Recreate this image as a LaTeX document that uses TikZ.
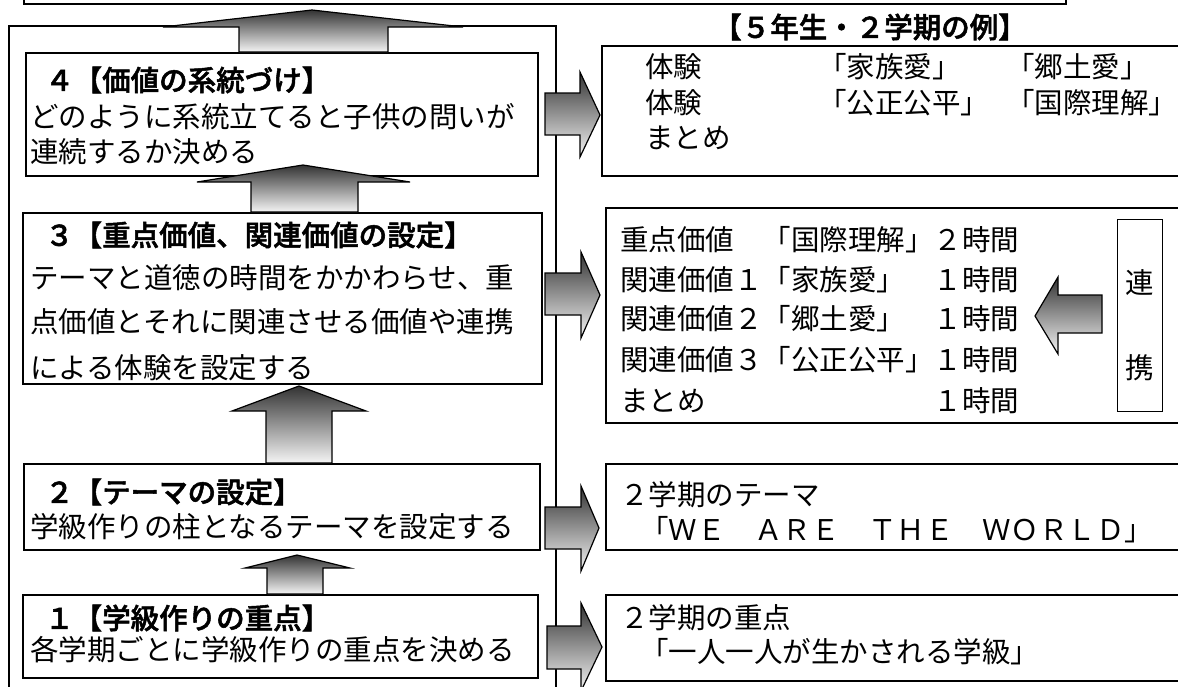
\documentclass[tikz,border=0pt]{standalone}
\usepackage{fontspec}
\newfontfamily\jp{Noto Sans CJK JP}[BoldFont={Noto Sans CJK JP Medium}, BoldFeatures={FakeBold=1.8}]
\begin{document}
\begin{tikzpicture}[x=1pt,y=-1pt,
  box/.style={draw=black, line width=1.5pt, rectangle, inner sep=0pt, anchor=north west},
  txt/.style={anchor=west, inner sep=0pt, font=\jp\fontsize{28.5}{34}\selectfont},
  headtxt/.style={txt, font=\jp\bfseries\fontsize{28.5}{34}\selectfont},
  arr/.style={draw=black, line width=1.2pt, line join=miter, top color=black!80, bottom color=black!4},
]
\useasboundingbox (0,0) rectangle (1178,686);
\fill[white] (0,0) rectangle (1178,686);
\begin{scope}
\clip (0,0) rectangle (1178,686);
% frames
\node[box, minimum width=1042pt, minimum height=60pt] (topbox) at (23,-57) {};
\node[box, minimum width=547pt, minimum height=700pt] (outer) at (8,25) {};
\node[box, minimum width=512pt, minimum height=123pt] (b4) at (25,52) {};
\node[box, minimum width=519pt, minimum height=171pt] (b3) at (22,212) {};
\node[box, minimum width=516pt, minimum height=86pt] (b2) at (23,463) {};
\node[box, minimum width=515pt, minimum height=83pt] (b1) at (22,594) {};
\node[box, minimum width=600pt, minimum height=130pt] (bA) at (601,45) {};
\node[box, minimum width=600pt, minimum height=215pt] (bB) at (605,207) {};
\node[box, minimum width=600pt, minimum height=86pt] (bC) at (605,463) {};
\node[box, minimum width=600pt, minimum height=86pt] (bD) at (605,594) {};
\node[box, line width=1.3pt, minimum width=45pt, minimum height=192pt] (ren) at (1117,219) {};

% label
\node[headtxt, anchor=center] (lbl) at (870,27) {【５年生・２学期の例】};

% left texts
\node[headtxt] (h4) at (45,80) {４【価値の系統づけ】};
\node[txt] (t4a) at (30,117) {どのように系統立てると子供の問いが};
\node[txt] (t4b) at (30,152) {連続するか決める};

\node[headtxt] (h3) at (45,235) {３【重点価値、関連価値の設定】};
\node[txt] (t3a) at (30,278) {テーマと道徳の時間をかかわらせ、重};
\node[txt] (t3b) at (30,322) {点価値とそれに関連させる価値や連携};
\node[txt] (t3c) at (30,368) {による体験を設定する};

\node[headtxt] (h2) at (45,492) {２【テーマの設定】};
\node[txt] (t2a) at (30,527) {学級作りの柱となるテーマを設定する};

\node[headtxt] (h1) at (45,618) {１【学級作りの重点】};
\node[txt] (t1a) at (30,650) {各学期ごとに学級作りの重点を決める};

% right texts
\node[txt] (tA1) at (645,67) {体験};
\node[txt] (tA2) at (818,67) {「家族愛」};
\node[txt] (tA3) at (1006,67) {「郷土愛」};
\node[txt] (tA4) at (645,103) {体験};
\node[txt] (tA5) at (818,103) {「公正公平」};
\node[txt] (tA6) at (1006,103) {「国際理解」};
\node[txt] (tA7) at (645,138) {まとめ};

\node[txt] (tBa) at (620,240) {重点価値　「国際理解」２時間};
\node[txt] (tBb) at (620,280) {関連価値１「家族愛」　１時間};
\node[txt] (tBc) at (620,319) {関連価値２「郷土愛」　１時間};
\node[txt] (tBd) at (620,360) {関連価値３「公正公平」１時間};
\node[txt] (tBe) at (620,401) {まとめ　　　　　　　　１時間};

\node[txt, anchor=center] (ren1) at (1140,283) {連};
\node[txt, anchor=center] (ren2) at (1140,368) {携};

\node[txt] (tCa) at (620,495) {２学期のテーマ};
\node[txt] (tCb) at (640,530) {「ＷＥ　ＡＲＥ　ＴＨＥ　ＷＯＲＬＤ」};

\node[txt] (tDa) at (620,618) {２学期の重点};
\node[txt] (tDb) at (640,652) {「一人一人が生かされる学級」};

% up arrows
\draw[arr] (239,52) -- (239,27) -- (163,27) -- (312,10) -- (463,27) -- (388,27) -- (388,52) -- cycle;
\draw[arr] (251,212) -- (251,182) -- (197,182) -- (303,165) -- (410,182) -- (358,182) -- (358,212) -- cycle;
\draw[arr] (266,463) -- (266,411) -- (232,411) -- (299,386) -- (366,411) -- (332,411) -- (332,463) -- cycle;
\draw[arr] (267,594) -- (267,568) -- (245,568) -- (297,555) -- (350,568) -- (323,568) -- (323,594) -- cycle;

% right arrows
\draw[arr] (545,93) -- (580,93) -- (580,72) -- (600,115) -- (580,157) -- (580,135) -- (545,135) -- cycle;
\draw[arr] (545,273) -- (581,273) -- (581,252) -- (600,295) -- (581,338) -- (581,315) -- (545,315) -- cycle;
\draw[arr] (545,507) -- (581,507) -- (581,486) -- (599,528) -- (581,571) -- (581,549) -- (545,549) -- cycle;
\draw[arr] (547,626) -- (581,626) -- (581,603) -- (602,647) -- (581,691) -- (581,669) -- (547,669) -- cycle;

% left arrow
\draw[arr] (1102,295) -- (1058,295) -- (1058,277) -- (1035,316) -- (1058,354) -- (1058,333) -- (1102,333) -- cycle;
\end{scope}
\end{tikzpicture}
\end{document}
